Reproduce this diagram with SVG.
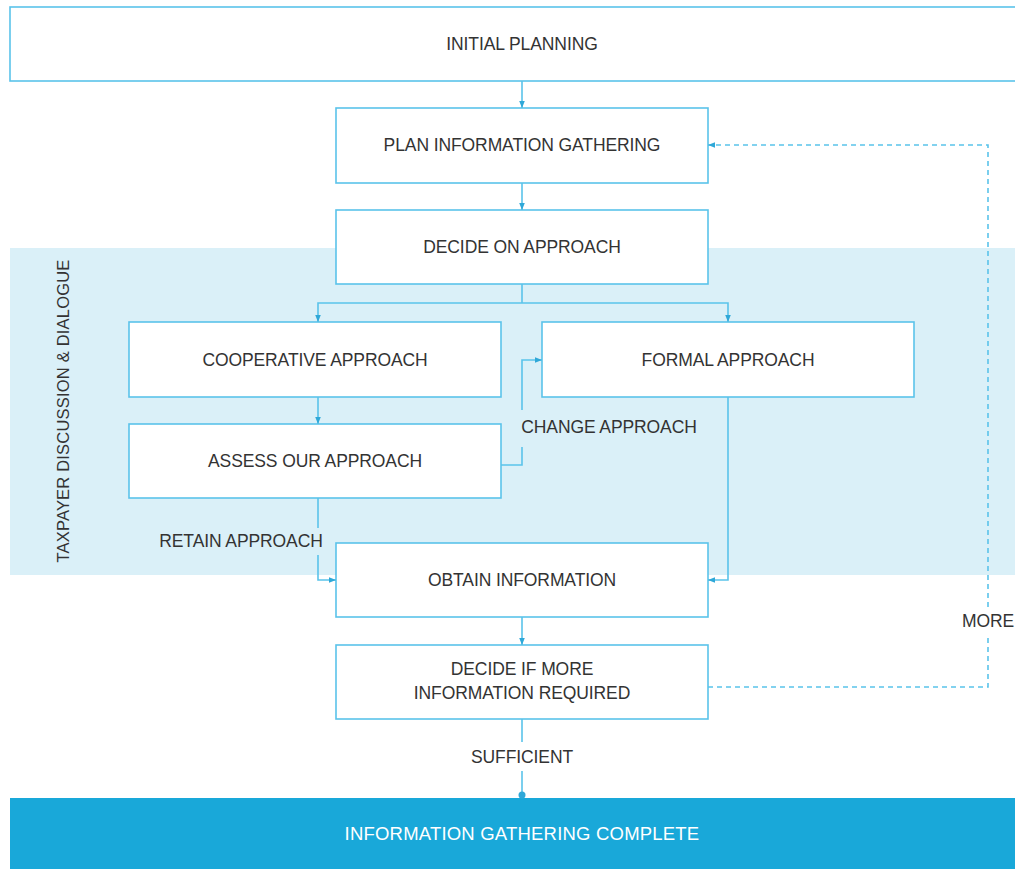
<svg xmlns="http://www.w3.org/2000/svg" width="1015" height="869" viewBox="0 0 1015 869">
<style>
.box{fill:#fff;stroke:#5ac3ea;stroke-width:1.6}
.t{font-family:"Liberation Sans",Arial,sans-serif;font-size:17.5px;fill:#333;text-anchor:middle;letter-spacing:-0.1px}
.c{fill:none;stroke:#5ac3ea;stroke-width:1.6}
.d{fill:none;stroke:#5ac3ea;stroke-width:1.6;stroke-dasharray:5 4}
</style>
<defs>
<marker id="ah" viewBox="0 0 10 10" refX="10" refY="5" markerWidth="7" markerHeight="7" orient="auto" markerUnits="userSpaceOnUse">
<path d="M0,1 L10,5 L0,9 Z" fill="#2fa8d8"/>
</marker>
</defs>
<rect x="0" y="0" width="1015" height="869" fill="#fff"/>
<rect x="10" y="248" width="1005" height="327" fill="#daf0f8"/>
<text class="t" transform="translate(69,411) rotate(-90)" style="font-size:16.5px;letter-spacing:0.2px">TAXPAYER DISCUSSION &amp; DIALOGUE</text>

<g id="initial"><rect class="box" x="10" y="7" width="1012" height="74"/><text class="t" x="522" y="50">INITIAL PLANNING</text></g>
<g id="plan"><rect class="box" x="336" y="108" width="372" height="75"/><text class="t" x="522" y="151">PLAN INFORMATION GATHERING</text></g>
<g id="decide"><rect class="box" x="336" y="210" width="372" height="74"/><text class="t" x="522" y="253">DECIDE ON APPROACH</text></g>
<g id="coop"><rect class="box" x="129" y="322" width="372" height="75"/><text class="t" x="315" y="366">COOPERATIVE APPROACH</text></g>
<g id="formal"><rect class="box" x="542" y="322" width="372" height="75"/><text class="t" x="728" y="366">FORMAL APPROACH</text></g>
<g id="assess"><rect class="box" x="129" y="424" width="372" height="74"/><text class="t" x="315" y="467">ASSESS OUR APPROACH</text></g>
<g id="obtain"><rect class="box" x="336" y="543" width="372" height="74"/><text class="t" x="522" y="586">OBTAIN INFORMATION</text></g>
<g id="more"><rect class="box" x="336" y="645" width="372" height="74"/><text class="t" x="522" y="675">DECIDE IF MORE</text><text class="t" x="522" y="699">INFORMATION REQUIRED</text></g>
<g id="complete"><rect x="10" y="798" width="1005" height="71" fill="#19a8d9"/><text class="t" x="522" y="840" style="fill:#fff;font-size:18.5px;letter-spacing:0.2px">INFORMATION GATHERING COMPLETE</text></g>

<g id="connectors">
<path class="c" d="M522,81 V108" marker-end="url(#ah)"/>
<path class="c" d="M522,183 V210" marker-end="url(#ah)"/>
<path class="c" d="M522,284 V303"/>
<path class="c" d="M522,303 H318 V322" marker-end="url(#ah)"/>
<path class="c" d="M522,303 H728 V322" marker-end="url(#ah)"/>
<path class="c" d="M318,397 V424" marker-end="url(#ah)"/>
<path class="c" d="M501,465 H522 V447"/>
<path class="c" d="M522,410 V360 H542" marker-end="url(#ah)"/>
<text class="t" x="609" y="433">CHANGE APPROACH</text>
<path class="c" d="M728,397 V580 H708" marker-end="url(#ah)"/>
<path class="c" d="M318,498 V528"/>
<path class="c" d="M318,555 V580 H336" marker-end="url(#ah)"/>
<text class="t" x="241" y="547">RETAIN APPROACH</text>
<path class="c" d="M522,617 V645" marker-end="url(#ah)"/>
<path class="c" d="M522,719 V742"/>
<path class="c" d="M522,771 V795"/>
<circle cx="522" cy="795" r="3.5" fill="#2fa8d8"/>
<text class="t" x="522" y="763">SUFFICIENT</text>
<path class="d" d="M708,687 H988 V634"/>
<path class="d" d="M988,607 V145 H708" marker-end="url(#ah)"/>
<text class="t" x="988" y="627">MORE</text>
</g>
</svg>
